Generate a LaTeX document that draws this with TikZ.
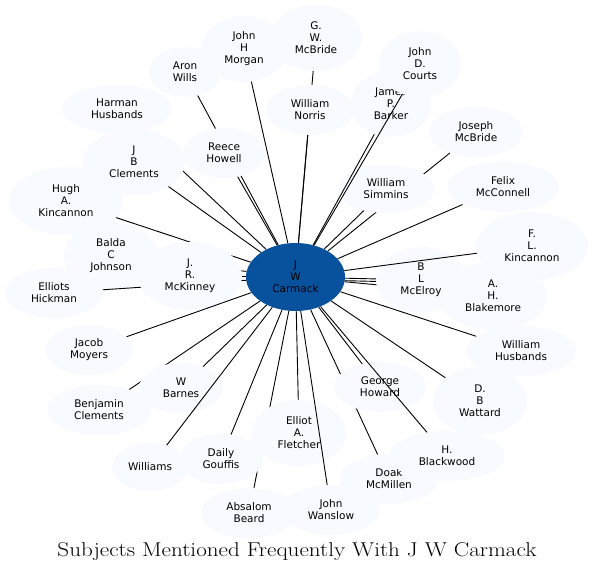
\documentclass[tikz,border=0pt]{standalone}
\usepackage{fontspec}
\usetikzlibrary{shapes.geometric}
\newfontfamily\nodefont{DejaVu Sans}
\definecolor{lightfill}{HTML}{F7FBFF}
\definecolor{dkblue}{HTML}{08519C}
\tikzset{
  nb/.style={ellipse, fill=lightfill, inner sep=0pt, align=center,
    font=\nodefont\fontsize{10.5}{12}\selectfont},
  ed/.style={draw=black, line width=0.9pt}
}
\newcommand\nd[6]{\node[nb, minimum width=#4*2pt, minimum height=#5*2pt] (#1) at (#2,#3) {#6};}
\begin{document}
\begin{tikzpicture}[x=1pt,y=-1pt]
\useasboundingbox (0,0) rectangle (594,574);
\node[nb, fill=dkblue, minimum width=99pt, minimum height=68pt] (c) at (295.5,277) {J\\W\\Carmack};
\nd{gwm}{316}{38}{46}{33}{G.\\W.\\McBride}\draw[ed] (c) -- (gwm);
\nd{norris}{310}{110}{44}{25}{William\\Norris}\draw[ed] (c) -- (norris);
\nd{morgan}{244}{49}{43}{33}{John\\H\\Morgan}\draw[ed] (c) -- (morgan);
\nd{aron}{185}{72}{36}{25}{Aron\\Wills}\draw[ed] (c) -- (aron);
\nd{reece}{224}{153}{41}{25}{Reece\\Howell}\draw[ed] (c) -- (reece);
\nd{harman}{117}{109}{55}{24}{Harman\\Husbands}\draw[ed] (c) -- (harman);
\nd{jbc}{134}{162}{51}{33}{J\\B\\Clements}\draw[ed] (c) -- (jbc);
\nd{hugh}{66}{201}{57}{34}{Hugh\\A.\\Kincannon}\draw[ed] (c) -- (hugh);
\nd{balda}{111}{256}{47}{34}{Balda\\C\\Johnson}\draw[ed] (c) -- (balda);
\nd{hickman}{54}{293}{49}{25}{Elliots\\Hickman}\draw[ed] (c) -- (hickman);
\nd{mckinney}{190}{276}{52}{34}{J.\\R.\\McKinney}\draw[ed] (c) -- (mckinney);
\nd{moyers}{89}{350}{44}{25}{Jacob\\Moyers}\draw[ed] (c) -- (moyers);
\nd{benj}{99}{410}{52}{25}{Benjamin\\Clements}\draw[ed] (c) -- (benj);
\nd{barnes}{181}{388}{42}{25}{W\\Barnes}\draw[ed] (c) -- (barnes);
\nd{williams}{150}{467}{38}{24}{Williams}\draw[ed] (c) -- (williams);
\nd{beard}{249}{513}{48}{25}{Absalom\\Beard}\draw[ed] (c) -- (beard);
\nd{gouffis}{221}{459}{42}{25}{Daily\\Gouffis}\draw[ed] (c) -- (gouffis);
\nd{fletcher}{299}{433}{47}{33}{Elliot\\A.\\Fletcher}\draw[ed] (c) -- (fletcher);
\nd{wanslow}{331}{510}{49}{25}{John\\Wanslow}\draw[ed] (c) -- (wanslow);
\nd{doak}{389}{479}{49}{25}{Doak\\McMillen}\draw[ed] (c) -- (doak);
\nd{george}{380}{387}{46}{25}{George\\Howard}\draw[ed] (c) -- (george);
\nd{blackwood}{447}{456}{58}{25}{H.\\Blackwood}\draw[ed] (c) -- (blackwood);
\nd{wattard}{480}{401}{47}{34}{D.\\B\\Wattard}\draw[ed] (c) -- (wattard);
\nd{whusb}{521}{351}{55}{25}{William\\Husbands}\draw[ed] (c) -- (whusb);
\nd{blakemore}{493}{296}{54}{34}{A.\\H.\\Blakemore}\draw[ed] (c) -- (blakemore);
\nd{mcelroy}{421}{280}{45}{33}{B\\L\\McElroy}\draw[ed] (c) -- (mcelroy);
\draw[ed, transform canvas={yshift=-2.5pt}] (c) -- (mcelroy);
\nd{flk}{532}{246}{56}{34}{F.\\L.\\Kincannon}\draw[ed] (c) -- (flk);
\nd{felix}{503}{187}{56}{25}{Felix\\McConnell}\draw[ed] (c) -- (felix);
\nd{josephm}{476}{132}{47}{25}{Joseph\\McBride}\draw[ed] (c) -- (josephm);
\nd{simmins}{386}{189}{48}{24}{William\\Simmins}\draw[ed] (c) -- (simmins);
\nd{barker}{391}{104}{40}{33}{James\\P.\\Barker}\draw[ed] (c) -- (barker);
\nd{courts}{420}{64}{41}{33}{John\\D.\\Courts}\draw[ed] (c) -- (courts);
\node[inner sep=0pt, xscale=1.155, font=\fontsize{20}{24}\selectfont] (title) at (297,552) {Subjects Mentioned Frequently With J W Carmack};
\end{tikzpicture}
\end{document}
